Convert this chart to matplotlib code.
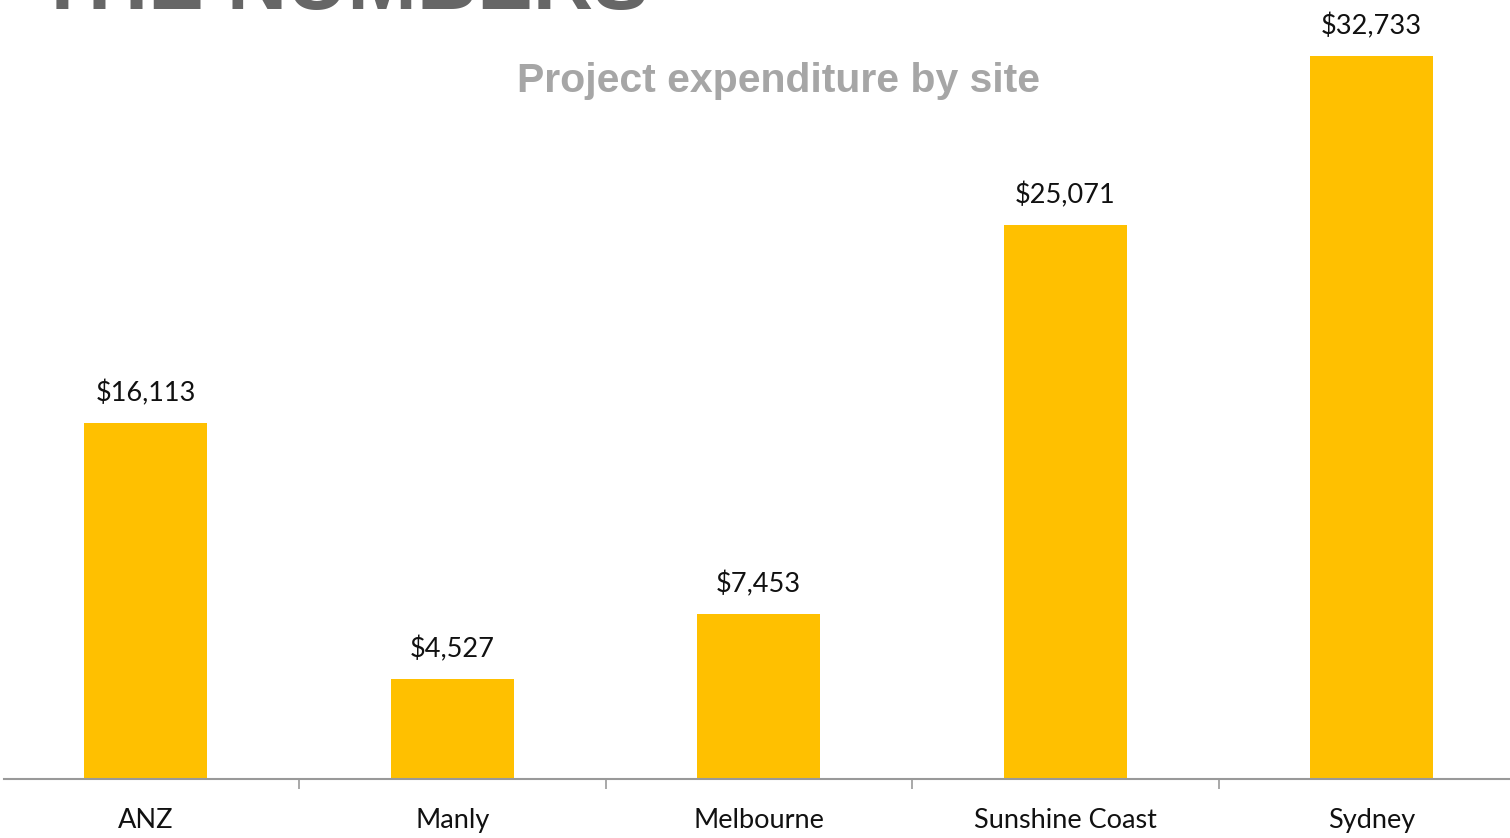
import matplotlib.pyplot as plt

# chart data
sites = ["ANZ", "Manly", "Melbourne", "Sunshine Coast", "Sydney"]
spend = [16113, 4527, 7453, 25071, 32733]

W, H = 1510, 838
fig = plt.figure(figsize=(W / 100, H / 100), dpi=100)

# axes placed in pixel terms to match the layout
ax = fig.add_axes([4 / W, 59 / H, (W - 4) / W, 779 / H])

x = range(len(sites))
ax.bar(x, spend, width=0.4, color="#FFC000", zorder=2)

ax.set_xlim(-0.5 + 11.5 / 306.5, 4.5 - 15 / 306.5)
ax.set_ylim(0, 35270)

for i, v in enumerate(spend):
    ax.annotate(f"${v:,}", (i, v), xytext=(0, 12), textcoords="offset points",
                ha="center", va="bottom", fontsize=19.5, family="Lato", color="#111111")

# ticks sit between categories, labels sit under the bars
ax.set_xticks([i + 0.5 for i in range(len(sites) - 1)])
ax.set_xticklabels([])
ax.set_xticks(list(x), minor=True)
ax.set_xticklabels(sites, minor=True, fontsize=19.5, family="Lato", color="#111111")
ax.tick_params(axis="x", which="major", length=7, width=1.2, color="#999999", direction="out")
ax.tick_params(axis="x", which="minor", length=0, pad=21)
ax.set_yticks([])

for s in ["top", "right", "left"]:
    ax.spines[s].set_visible(False)
ax.spines["bottom"].set_color("#999999")
ax.spines["bottom"].set_linewidth(1.5)

fig.text(779 / W, 1 - 81 / H, "Project expenditure by site", ha="center", va="center",
         fontsize=29.5, fontweight="bold", family="Liberation Sans", color="#A6A6A6")
# big heading runs off the top edge, as in the source slide
fig.text(37 / W, 1 - 9 / H, "THE NUMBERS", ha="left", va="baseline",
         fontsize=60, fontweight="bold", family="Liberation Sans", color="#666666")

fig.savefig("out.png", dpi=100)
